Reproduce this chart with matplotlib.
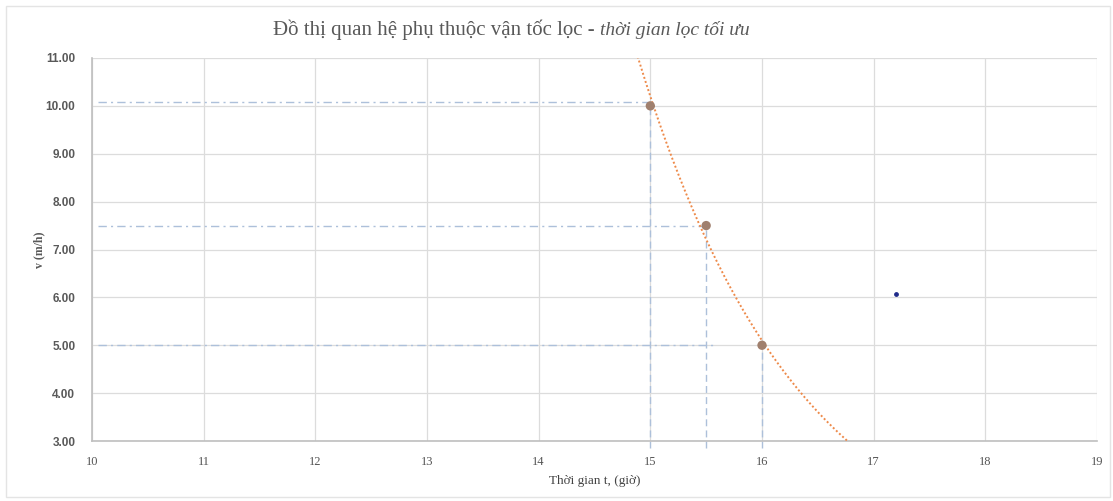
import numpy as np
import matplotlib
matplotlib.use("Agg")
import matplotlib.pyplot as plt
from matplotlib.patches import Rectangle

# Measured filtration points: time t (hours) vs filtration velocity v (m/h)
t_points = [15.0, 15.5, 16.0]
v_points = [10.0, 7.5, 5.0]

# Dash-dot guide lines: horizontal (level, x_end) and vertical (x, y_top)
h_guides_level = [10.08, 7.5, 5.0]
h_guides_end = [15.0, 15.5, 15.56]
v_guides_x = [15.0, 15.5, 16.0]
v_guides_top = [10.08, 7.5, 5.0]

# Stray marker
extra_t = [17.2]
extra_v = [6.07]

x_ticks = list(range(10, 20))
y_ticks = [3, 4, 5, 6, 7, 8, 9, 10, 11]

fig = plt.figure(figsize=(11.13, 5.01), dpi=100)
fig.patch.set_facecolor("white")
ax = fig.add_axes([92 / 1113, 1 - 441 / 501, (1097 - 92) / 1113, (441 - 58) / 501])

# outer chart frame
fig.patches.append(Rectangle((6 / 1113, 4 / 501), 1104 / 1113, 491 / 501,
                             transform=fig.transFigure, fill=False,
                             edgecolor="#e4e4e4", linewidth=1.0))

ax.set_xlim(10, 19)
ax.set_ylim(3, 11)
ax.set_xticks(x_ticks)
ax.set_yticks(y_ticks)
ax.set_xticklabels([str(v) for v in x_ticks], fontfamily="Liberation Serif",
                   fontsize=9, color="#555555")
ax.set_yticklabels([f"{v:.2f}" for v in y_ticks], fontfamily="Liberation Sans",
                   fontsize=8.5, fontweight="bold", color="#595959")
ax.tick_params(axis="x", length=0, pad=11)
ax.tick_params(axis="y", length=0, pad=12)
ax.grid(True, color="#dcdcdc", linewidth=0.9)
ax.set_axisbelow(True)
for s in ["top", "right"]:
    ax.spines[s].set_visible(False)
for s in ["left", "bottom"]:
    ax.spines[s].set_color("#bfbfbf")
    ax.spines[s].set_linewidth(1.2)

guide_color = "#adc0da"
for lvl, xe in zip(h_guides_level, h_guides_end):
    ax.plot([10.05, xe], [lvl, lvl], color=guide_color, linewidth=1.0,
            linestyle=(0, (6, 3, 1.5, 3)), zorder=2)
for xv, yt in zip(v_guides_x, v_guides_top):
    ax.plot([xv, xv], [2.85, yt], color=guide_color, linewidth=1.0,
            linestyle=(0, (5, 3)), zorder=2, clip_on=False)

# exponential trend line fitted through the measured points
b, ln_a = np.polyfit(t_points, np.log(v_points), 1)
tt = np.linspace(14.7, 16.9, 300)
vv = np.exp(ln_a + b * tt)
ax.plot(tt, vv, color="#ee8a4a", linewidth=1.4, linestyle=(0, (1, 1.2)), zorder=3)

ax.scatter(t_points, v_points, s=45, color="#a0806e", zorder=4, edgecolors="none")
ax.scatter(extra_t, extra_v, s=6, color="#1f2a8a", zorder=4)

ax.set_xlabel("Thời gian t, (giờ)", fontfamily="Liberation Serif", fontsize=9.5,
              color="#444444", labelpad=5)
ax.set_ylabel("v (m/h)", fontfamily="Liberation Serif", fontsize=8.5,
              fontweight="bold", color="#595959", labelpad=0)

fig.text(595 / 1113, 1 - 30 / 501, "Đồ thị quan hệ phụ thuộc vận tốc lọc -",
         ha="right", va="center", fontfamily="Liberation Serif", fontsize=15,
         color="#595959")
fig.text(600 / 1113, 1 - 30 / 501, "thời gian lọc tối ưu",
         ha="left", va="center", fontfamily="Liberation Serif", fontsize=14,
         fontstyle="italic", color="#595959")

fig.savefig("out.png", dpi=100, facecolor="white")
